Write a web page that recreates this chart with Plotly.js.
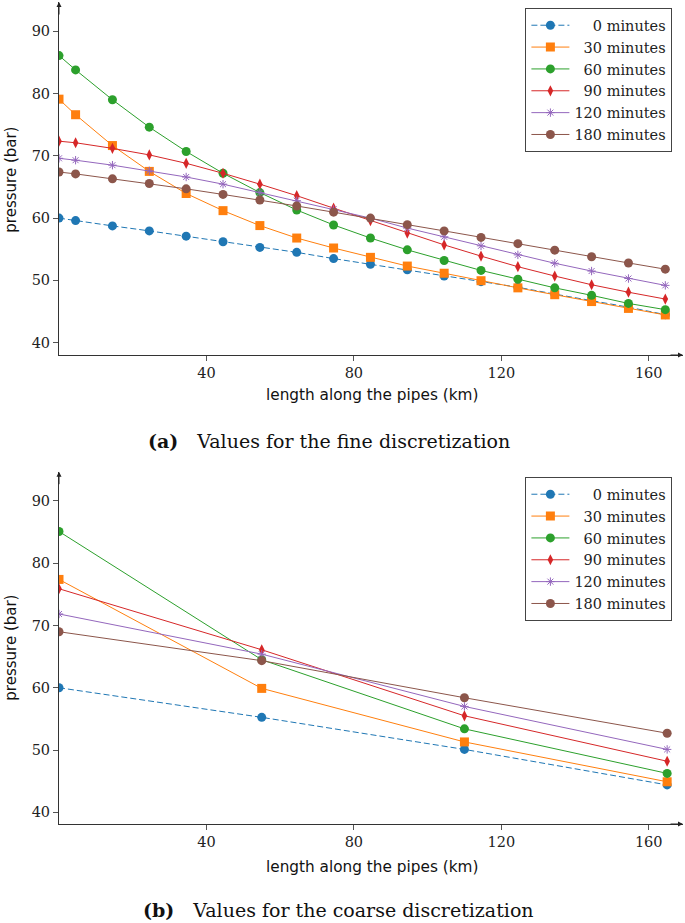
<!DOCTYPE html>
<html>
<head>
<meta charset="utf-8">
<script src="https://cdn.plot.ly/plotly-3.0.1.min.js"></script>
<style>
  html, body { margin: 0; padding: 0; background: #fff; }
  #chart { width: 685px; height: 923px; }
</style>
</head>
<body>
<div id="chart"></div>
<script>
// fine discretization (km)
const xFine = [0, 4.5, 14.5, 24.5, 34.5, 44.5, 54.5, 64.5, 74.5, 84.5, 94.5, 104.5, 114.5, 124.5, 134.5, 144.5, 154.5, 164.5]
const fine0 = [60.0, 59.6, 58.75, 57.95, 57.1, 56.2, 55.3, 54.5, 53.5, 52.6, 51.7, 50.7, 49.8, 48.9, 47.8, 46.75, 45.7, 44.5]
const fine30 = [79.1, 76.6, 71.65, 67.5, 63.95, 61.2, 58.8, 56.8, 55.2, 53.7, 52.3, 51.15, 49.95, 48.8, 47.7, 46.6, 45.5, 44.45]
const fine60 = [86.1, 83.8, 79.0, 74.6, 70.7, 67.2, 64.1, 61.3, 58.9, 56.8, 54.9, 53.2, 51.6, 50.2, 48.8, 47.6, 46.3, 45.3]
const fine90 = [72.35, 72.1, 71.2, 70.15, 68.8, 67.2, 65.45, 63.6, 61.6, 59.6, 57.6, 55.7, 53.9, 52.2, 50.7, 49.3, 48.1, 47.0]
const fine120 = [69.6, 69.3, 68.5, 67.6, 66.6, 65.45, 64.1, 62.8, 61.4, 60.0, 58.4, 57.0, 55.55, 54.1, 52.75, 51.5, 50.3, 49.2]
const fine180 = [67.4, 67.1, 66.3, 65.55, 64.7, 63.8, 62.9, 61.95, 60.95, 60.0, 58.95, 57.95, 56.9, 55.9, 54.85, 53.8, 52.8, 51.8]

// coarse discretization (km)
const xCoarse = [0, 55, 110, 165]
const coarse0 = [60.0, 55.25, 50.1, 44.4]
const coarse30 = [77.4, 59.9, 51.3, 44.9]
const coarse60 = [85.1, 64.5, 53.4, 46.25]
const coarse90 = [75.9, 66.1, 55.5, 48.2]
const coarse120 = [71.85, 65.4, 57.0, 50.1]
const coarse180 = [69.0, 64.35, 58.4, 52.7]

const seriesNames = ['\u2007\u20070 minutes', '\u200730 minutes', '\u200760 minutes', '\u200790 minutes', '120 minutes', '180 minutes']
const xTicks = [40, 80, 120, 160]
const yTicks = [40, 50, 60, 70, 80, 90]

const colors = ['#1f77b4', '#ff7f0e', '#2ca02c', '#d62728', '#9467bd', '#8c564b']
const markers = [
  {symbol: 'circle', size: 9},
  {symbol: 'square', size: 9},
  {symbol: 'circle', size: 9},
  {symbol: 'diamond-tall', size: 8},
  {symbol: 'asterisk-open', size: 7},
  {symbol: 'circle', size: 9}
]

const serif = 'DejaVu Serif, serif'
const sans = 'DejaVu Sans, sans-serif'

function makeTraces(x, ys, xa, ya, legendId) {
  return ys.map((y, i) => ({
    x: x,
    y: y,
    name: seriesNames[i],
    type: 'scatter',
    mode: 'lines+markers',
    xaxis: xa,
    yaxis: ya,
    legend: legendId,
    line: {color: colors[i], width: 1, dash: i === 0 ? '6px,3px' : 'solid'},
    marker: {
      symbol: markers[i].symbol,
      size: markers[i].size,
      color: colors[i],
      line: {color: colors[i], width: markers[i].symbol === 'asterisk-open' ? 1 : 0}
    }
  }))
}

const traces = [
  ...makeTraces(xFine, [fine0, fine30, fine60, fine90, fine120, fine180], 'x', 'y', 'legend'),
  ...makeTraces(xCoarse, [coarse0, coarse30, coarse60, coarse90, coarse120, coarse180], 'x2', 'y2', 'legend2')
]

const H = 923
function axisX(anchor) {
  return {
    anchor: anchor,
    range: [0, 169.3],
    tickvals: xTicks,
    ticks: 'outside',
    ticklen: 5,
    tickcolor: '#555',
    showline: true,
    linecolor: '#333',
    linewidth: 1,
    showgrid: false,
    zeroline: false,
    tickfont: {family: serif, size: 14.5, color: '#222'}
  }
}
function axisY(anchor, domain, range) {
  return {
    anchor: anchor,
    domain: domain,
    range: range,
    tickvals: yTicks,
    ticks: 'outside',
    ticklen: 5,
    tickcolor: '#555',
    showline: true,
    linecolor: '#333',
    linewidth: 1,
    showgrid: false,
    zeroline: false,
    tickfont: {family: serif, size: 14.5, color: '#222'}
  }
}

const legendBase = {
  xref: 'paper',
  yref: 'paper',
  xanchor: 'right',
  yanchor: 'top',
  x: 0.983,
  bgcolor: '#fff',
  bordercolor: '#444',
  borderwidth: 1,
  itemwidth: 38,
  font: {family: serif, size: 14.5, color: '#222'},
  tracegroupgap: 0
}

function arrow(xr, yr, x, y, ax, ay) {
  return {xref: xr, yref: yr, x: x, y: y, ax: ax, ay: ay, text: '', showarrow: true,
    arrowhead: 2, arrowsize: 1, arrowwidth: 1, arrowcolor: '#222'}
}
function label(text, x, y, angle, font) {
  return {xref: 'paper', yref: 'paper', x: x, y: y, text: text, showarrow: false,
    textangle: angle, font: font, xanchor: 'center', yanchor: 'middle'}
}

const plotW = 685 - 59.3 - 2
const px = v => (v - 59.3) / plotW
const py = v => 1 - v / H

const layout = {
  width: 685,
  height: H,
  margin: {l: 59.3, r: 2, t: 0, b: 0},
  paper_bgcolor: '#fff',
  plot_bgcolor: '#fff',
  showlegend: true,
  xaxis: axisX('y'),
  yaxis: axisY('x', [py(355), py(2)], [38.02, 94.7]),
  xaxis2: axisX('y2'),
  yaxis2: axisY('x2', [py(824), py(471.7)], [38.12, 94.7]),
  legend: {...legendBase, y: py(8.3)},
  legend2: {...legendBase, y: py(477.3)},
  annotations: [
    arrow('x domain', 'y domain', 0, 1, 0, 14),
    arrow('x domain', 'y domain', 1, 0, -14, 0),
    arrow('x2 domain', 'y2 domain', 0, 1, 0, 14),
    arrow('x2 domain', 'y2 domain', 1, 0, -14, 0),
    label('pressure (bar)', px(11), py(180), -90, {family: sans, size: 15, color: '#111'}),
    label('pressure (bar)', px(11), py(648), -90, {family: sans, size: 15, color: '#111'}),
    label('length along the pipes (km)', px(372), py(395), 0, {family: sans, size: 15.3, color: '#111'}),
    label('length along the pipes (km)', px(372), py(867), 0, {family: sans, size: 15.3, color: '#111'}),
    label('<b>(a)</b>\u2003Values for the fine discretization', px(329), py(441), 0, {family: serif, size: 19, color: '#111'}),
    label('<b>(b)</b>\u2003Values for the coarse discretization', px(339), py(910), 0, {family: serif, size: 19, color: '#111'})
  ]
}

Plotly.newPlot('chart', traces, layout, {displayModeBar: false, staticPlot: true})
</script>
</body>
</html>
